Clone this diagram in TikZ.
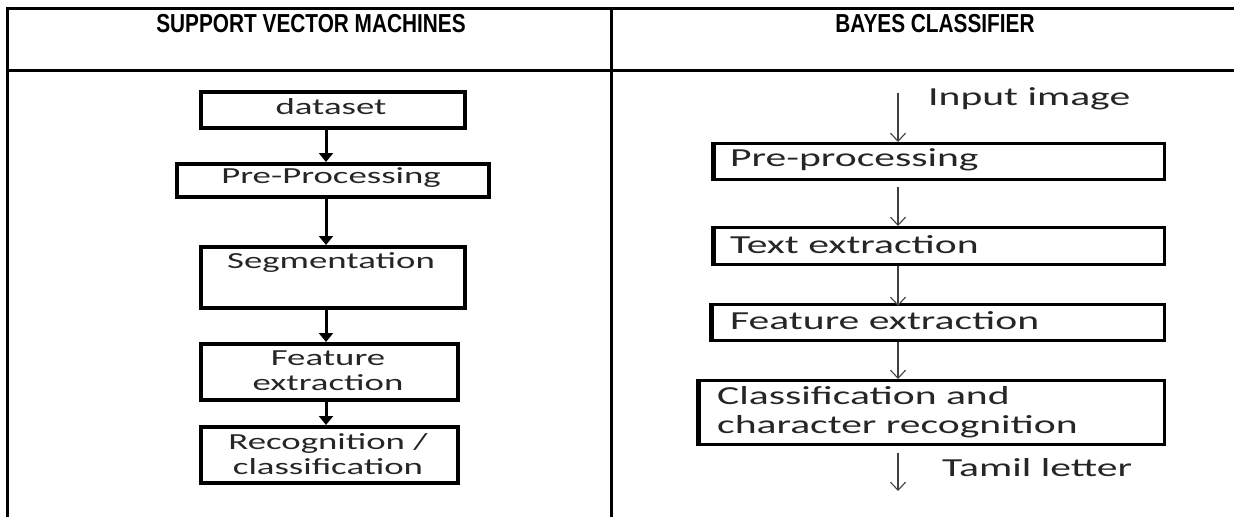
\documentclass[tikz,border=0pt]{standalone}
\usepackage{fontspec}
\usetikzlibrary{arrows.meta}
% heading face: narrow bold sans; flowchart face: wide Calibri-metric sans
\newfontfamily\headfont[FakeStretch=0.8]{Liberation Sans}
\newfontfamily\flowfont[FakeStretch=1.6]{Carlito}
\begin{document}
\begin{tikzpicture}[x=1pt,y=-1pt,
  rule/.style={line width=3pt},
  head/.style={font=\headfont\bfseries\fontsize{26}{30}\selectfont, inner sep=0},
  svmbox/.style={draw, line width=3.5pt, inner sep=0, anchor=north west},
  svmtxt/.style={font=\flowfont\fontsize{23}{25}\selectfont, align=center, inner sep=0, text=black!85},
  svmarrow/.style={line width=3pt, -{Triangle[length=9pt,width=14pt]}},
  nbbox/.style={draw, line width=2.5pt, inner sep=0, anchor=north west},
  nbedge/.style={line width=4pt},
  nbtxt/.style={font=\flowfont\fontsize{26}{29}\selectfont, align=left, anchor=west, inner sep=0, text=black!85},
  nbarrow/.style={line width=1.1pt, draw=black!75, -{Straight Barb[length=8pt,width=15pt]}},
]
\useasboundingbox (0,0) rectangle (1234,517);
\fill[white] (0,0) rectangle (1234,517);

% table frame
\draw[rule] (7,517) -- (7,8) -- (1234,8);
\draw[rule] (7,70) -- (1234,70);
\draw[rule] (611,8) -- (611,517);

% column headings
\node[head] (svmhead) at (311,24) {SUPPORT VECTOR MACHINES};
\node[head] (nbhead) at (935,24) {BAYES CLASSIFIER};

% ---- support vector machine pipeline ----
\node[svmbox, minimum width=264pt, minimum height=36pt] (ds) at (199,90) {};
\node[svmbox, minimum width=312pt, minimum height=33pt] (pp) at (175,162) {};
\node[svmbox, minimum width=264pt, minimum height=61pt] (sg) at (199,245) {};
\node[svmbox, minimum width=257pt, minimum height=56pt] (fe) at (199,342) {};
\node[svmbox, minimum width=257pt, minimum height=56pt] (rc) at (199,425) {};

\node[svmtxt] (dst) at (331,107) {dataset};
\node[svmtxt] (ppt) at (331,178) {Pre-Processing};
\node[svmtxt] (sgt) at (331,263) {Segmentation};
\node[svmtxt] (fet) at (328,371) {Feature\\extraction};
\node[svmtxt] (rct) at (328,454) {Recognition /\\classification};

\coordinate (axis) at (326,0);
\draw[svmarrow] (ds.south -| axis) -- (pp.north -| axis);
\draw[svmarrow] (pp.south -| axis) -- (sg.north -| axis);
\draw[svmarrow] (sg.south -| axis) -- (fe.north -| axis);
\draw[svmarrow] (fe.south -| axis) -- (rc.north -| axis);

% ---- Bayes classifier pipeline ----
\coordinate (in) at (898,93);
\coordinate (out) at (898,491);
\node[nbtxt] (int) at (928,99) {Input image};

\node[nbbox, minimum width=450pt, minimum height=36pt] (pb) at (713,142) {};
\node[nbbox, minimum width=450pt, minimum height=37pt] (tb) at (713,226) {};
\node[nbbox, minimum width=452pt, minimum height=36pt] (fb) at (711,303) {};
\node[nbbox, minimum width=465pt, minimum height=64pt] (cb) at (698,379) {};
% heavier left side on each box
\foreach \b in {pb,tb,fb,cb}
  \draw[nbedge] (\b.north west) -- (\b.south west);

\node[nbtxt] (pbt) at (730,160) {Pre-processing};
\node[nbtxt] (tbt) at (730,245) {Text extraction};
\node[nbtxt] (fbt) at (730,321) {Feature extraction};
\node[nbtxt] (cbt) at (717,412) {Classification and\\character recognition};

\node[nbtxt] (outt) at (942,468) {Tamil letter};

\draw[nbarrow] (in) -- (in |- pb.north);
\draw[nbarrow, shorten <=6pt] (pb.south -| in) -- (tb.north -| in);
\draw[nbarrow] (tb.south -| in) -- ([yshift=-3pt]fb.north -| in);
\draw[nbarrow] (fb.south -| in) -- (cb.north -| in);
\draw[nbarrow, shorten <=7pt] (cb.south -| in) -- (out);
\end{tikzpicture}
\end{document}
